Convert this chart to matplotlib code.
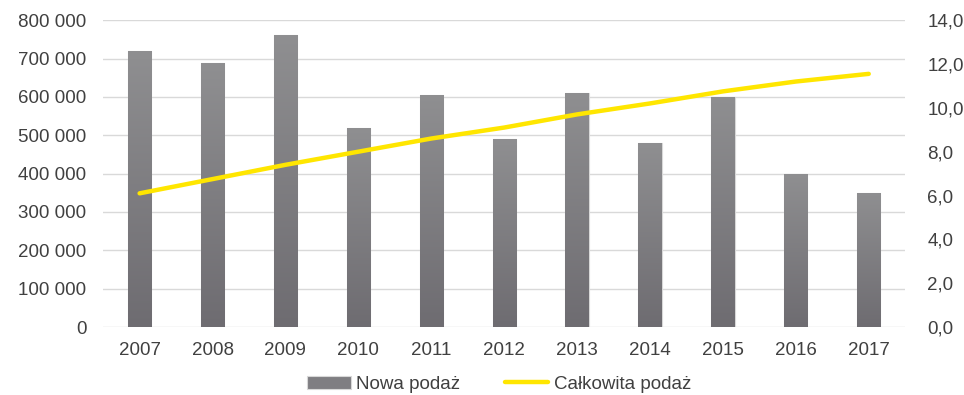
import matplotlib
matplotlib.use("Agg")
import matplotlib.pyplot as plt
import numpy as np
from matplotlib.ticker import FuncFormatter

years = ["2007", "2008", "2009", "2010", "2011", "2012", "2013", "2014", "2015", "2016", "2017"]
nowa_podaz = [720000, 688000, 760000, 520000, 605000, 490000, 610000, 480000, 600000, 400000, 350000]
calkowita_podaz = [6.1, 6.75, 7.4, 8.0, 8.6, 9.1, 9.7, 10.2, 10.75, 11.2, 11.55]
left_ticks = [0, 100000, 200000, 300000, 400000, 500000, 600000, 700000, 800000]
right_ticks = [0, 2, 4, 6, 8, 10, 12, 14]

plt.rcParams['font.family'] = ['Liberation Sans', 'DejaVu Sans']
text_color = "#404040"
fs = 13.5

fig = plt.figure(figsize=(9.64, 3.95), dpi=100)
ax = fig.add_axes([0.107, 0.172, 0.832, 0.777])
ax2 = ax.twinx()

x = np.arange(len(years))
bars = ax.bar(x, nowa_podaz, width=0.32, color="#7f7e82", edgecolor="#d8d8d8",
              linewidth=0.8, zorder=2, label="Nowa podaż")
grad = np.linspace(0, 1, 256).reshape(-1, 1)
cmap = matplotlib.colors.LinearSegmentedColormap.from_list("g", ["#6e6c71", "#8f8f91"])
for b in bars:
    bx, by = b.get_x(), b.get_y()
    w, h = b.get_width(), b.get_height()
    im = ax.imshow(grad, cmap=cmap, aspect="auto", origin="lower",
                   extent=[bx, bx + w, by, by + h], zorder=2.5)
    im.set_clip_path(b)
ax.set_xlim(-0.5, len(years) - 0.5)
ax.set_ylim(0, 800000)
ax.set_yticks(left_ticks)
ax.yaxis.set_major_formatter(FuncFormatter(lambda v, p: f"{int(v):,}".replace(",", " ")))
ax.set_xticks(x)
ax.set_xticklabels(years)
ax.grid(axis="y", color="#d9d9d9", linewidth=1, zorder=0)
ax.set_axisbelow(True)

line, = ax2.plot(x, calkowita_podaz, color="#FFE600", linewidth=3.2, solid_capstyle="round",
                 zorder=3, label="Całkowita podaż")
ax2.set_ylim(0, 14)
ax2.set_yticks(right_ticks)
ax2.yaxis.set_major_formatter(FuncFormatter(lambda v, p: f"{v:.1f}".replace(".", ",")))

for a in (ax, ax2):
    for s in a.spines.values():
        s.set_visible(False)
    a.tick_params(length=0, labelsize=fs, colors=text_color)
ax.tick_params(axis="x", pad=11)
ax.tick_params(axis="y", pad=12)
ax2.tick_params(axis="y", pad=16)

ax.set_xlim(-0.5, len(years) - 0.5)
fig.legend(handles=[bars, line], labels=["Nowa podaż", "Całkowita podaż"],
           loc="center", bbox_to_anchor=(0.518, 0.027), ncol=2, frameon=False,
           fontsize=fs, labelcolor=text_color, handlelength=2.3, handletextpad=0.3,
           columnspacing=2.4)

fig.savefig("out.png", dpi=100)
